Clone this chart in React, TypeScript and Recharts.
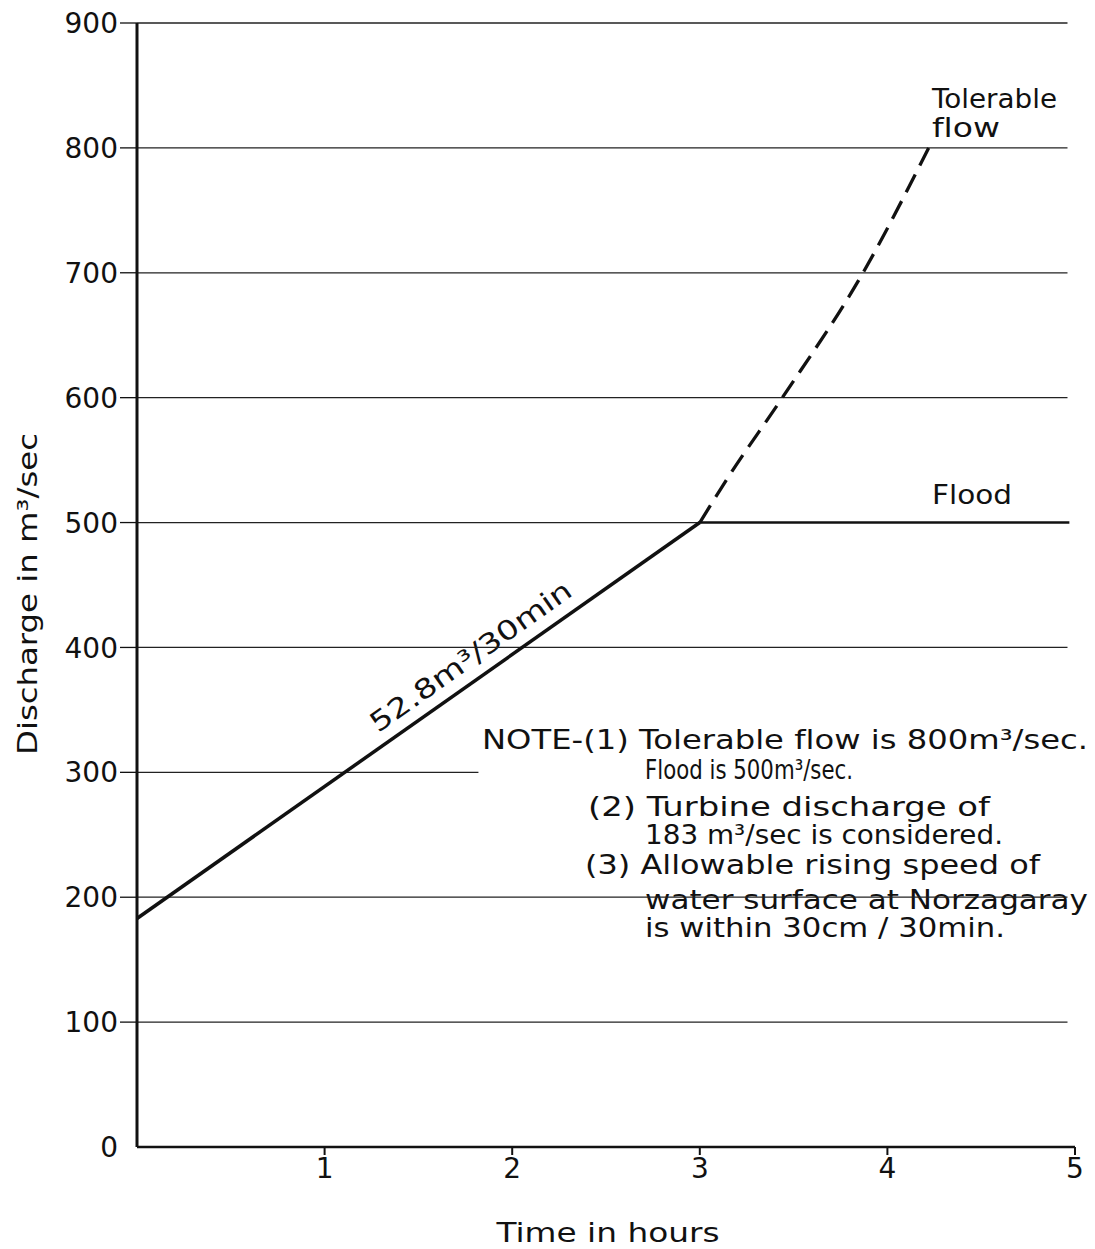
import { Customized, Line, LineChart, ReferenceLine, XAxis, YAxis } from "recharts";

// rising discharge 52.8 m3 / 30 min from turbine discharge 183
const riseHours = [0, 3];
const riseFlow = [183, 500];

// flood level
const floodHours = [3, 4.97];
const floodFlow = [500, 500];

// dashed curve up to tolerable flow
const tolerableHours = [3, 3.15, 3.44, 3.87, 4.22];
const tolerableFlow = [500, 536, 600, 700, 800];

const gridValues = [100, 200, 300, 400, 500, 600, 700, 800, 900];
const gridEnds = [4.96, 4.96, 1.82, 4.96, 3, 4.96, 4.96, 4.96, 4.96];

const yTicks = [0, 100, 200, 300, 400, 500, 600, 700, 800, 900];
const xTicks = [1, 2, 3, 4, 5];

const toRows = (hours: number[], flows: number[]) => hours.map((h, i) => ({ hour: h, flow: flows[i] }));

const FONT = "'DejaVu Sans', 'Liberation Sans', sans-serif";

const YTick = (props: any) => {
  const { x, y, payload } = props;
  return (
    <g>
      {payload.value !== 0 && <line x1={x + 2} x2={x + 19} y1={y} y2={y} stroke="#111" strokeWidth={1.3} />}
      <text x={x} y={y} dy="0.36em" textAnchor="end" fontSize={28} fontFamily={FONT} fill="#111">
        {payload.value}
      </text>
    </g>
  );
};

const noteLines = [
  { text: "NOTE-(1) Tolerable flow is 800m³/sec.", x: 482, y: 740, w: 606 },
  { text: "Flood is 500m³/sec.", x: 645, y: 770, w: 208 },
  { text: "(2) Turbine discharge of", x: 588, y: 807, w: 402 },
  { text: "183 m³/sec is considered.", x: 645, y: 835, w: 358 },
  { text: "(3) Allowable rising speed of", x: 585, y: 865, w: 455 },
  { text: "water surface at Norzagaray", x: 645, y: 900, w: 443 },
  { text: "is within 30cm / 30min.", x: 645, y: 928, w: 360 },
];

const fit = "spacingAndGlyphs";

const Annotations = () => (
  <g fontFamily={FONT} fill="#111" style={{ fontVariantLigatures: "none" }}>
    {noteLines.map((l) => (
      <text key={l.text} x={l.x} y={l.y} dy="0.36em" fontSize={26} textLength={l.w} lengthAdjust={fit}>
        {l.text}
      </text>
    ))}
    <text x={932} y={99} dy="0.36em" fontSize={26} textLength={125} lengthAdjust={fit}>Tolerable</text>
    <text x={932} y={128} dy="0.36em" fontSize={26} textLength={68} lengthAdjust={fit}>flow</text>
    <text x={932} y={495} dy="0.36em" fontSize={26} textLength={80} lengthAdjust={fit}>Flood</text>
    <text
      x={476}
      y={664}
      fontSize={27}
      textAnchor="middle"
      transform="rotate(-35.3 476 664)"
      textLength={240}
      lengthAdjust={fit}
    >
      52.8m³/30min
    </text>
    <text x={608} y={1233} dy="0.36em" fontSize={26} textAnchor="middle" textLength={223} lengthAdjust={fit}>
      Time in hours
    </text>
    <text
      x={28}
      y={594}
      dy="0.36em"
      fontSize={26}
      textAnchor="middle"
      transform="rotate(-90 28 594)"
      textLength={322}
      lengthAdjust={fit}
    >
      Discharge in m³/sec
    </text>
  </g>
);

export default function App() {
  return (
    <div style={{ width: 1095, height: 1249, background: "#fff" }}>
      <style>{"body{margin:0}"}</style>
      <LineChart width={1095} height={1249} margin={{ top: 23, right: 20, left: 37, bottom: 42 }}>
        <XAxis
          dataKey="hour"
          type="number"
          domain={[0, 5]}
          ticks={xTicks}
          height={60}
          axisLine={{ stroke: "#111", strokeWidth: 2.5 }}
          tickLine={{ stroke: "#111", strokeWidth: 2 }}
          tickSize={8}
          tickMargin={3}
          tick={{ fontSize: 28, fontFamily: FONT, fill: "#111" }}
          allowDataOverflow
        />
        <YAxis
          type="number"
          domain={[0, 900]}
          ticks={yTicks}
          width={100}
          axisLine={{ stroke: "#111", strokeWidth: 3 }}
          tickLine={false}
          tickSize={17}
          tickMargin={2}
          tick={<YTick />}
          allowDataOverflow
        />
        {gridValues.map((v, i) => (
          <ReferenceLine
            key={v}
            segment={[
              { x: 0, y: v },
              { x: gridEnds[i], y: v },
            ]}
            stroke="#222"
            strokeWidth={1.3}
          />
        ))}
        <Line
          data={toRows(riseHours, riseFlow)}
          dataKey="flow"
          stroke="#111"
          strokeWidth={3.5}
          dot={false}
          isAnimationActive={false}
        />
        <Line
          data={toRows(floodHours, floodFlow)}
          dataKey="flow"
          stroke="#111"
          strokeWidth={2.5}
          dot={false}
          isAnimationActive={false}
        />
        <Line
          data={toRows(tolerableHours, tolerableFlow)}
          dataKey="flow"
          type="monotone"
          stroke="#111"
          strokeWidth={3.3}
          strokeDasharray="20 10"
          dot={false}
          isAnimationActive={false}
        />
        <Customized component={Annotations} />
      </LineChart>
    </div>
  );
}
